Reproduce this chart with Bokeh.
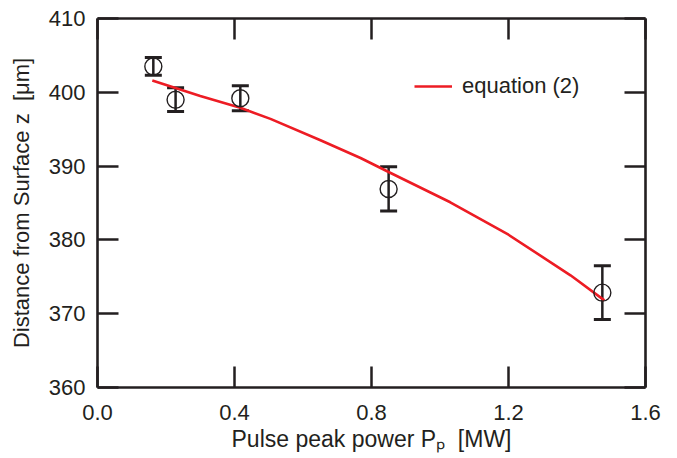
from bokeh.plotting import figure
from bokeh.models import (ColumnDataSource, Whisker, TeeHead, Range1d, FixedTicker,
                          NumeralTickFormatter, LinearAxis, Legend, LegendItem,
                          CustomJSTickFormatter)
from bokeh.embed import file_html
from bokeh.resources import INLINE

# data
power = [0.163, 0.228, 0.417, 0.850, 1.474]
depth = [403.5, 399.0, 399.2, 386.9, 372.85]
err = [1.2, 1.6, 1.7, 3.0, 3.65]

curve_x = [0.16, 0.30, 0.417, 0.505, 0.651, 0.768, 0.85, 1.03, 1.20, 1.381, 1.48]
curve_y = [401.6, 399.5, 397.9, 396.4, 393.5, 391.1, 389.2, 385.1, 380.7, 375.2, 371.8]

x_ticks = [0.0, 0.4, 0.8, 1.2, 1.6]
y_ticks = [360, 370, 380, 390, 400, 410]

FONT = "Liberation Sans"
INK = "#231f20"
RED = "#ed1c24"

W, H = 668, 458
p = figure(width=W, height=H, output_backend="svg", toolbar_location=None,
           x_range=Range1d(0, 1.6), y_range=Range1d(360, 410),
           min_border_left=97, min_border_top=18, min_border_right=23,
           min_border_bottom=H - 387)
p.grid.visible = False
p.outline_line_color = None
p.background_fill_color = "white"

src = ColumnDataSource(dict(x=power, y=depth,
                            lo=[d - e for d, e in zip(depth, err)],
                            hi=[d + e for d, e in zip(depth, err)]))

line_r = p.line(curve_x, curve_y, line_color=RED, line_width=2.6)

p.add_layout(Whisker(source=src, base="x", lower="lo", upper="hi",
                     line_color=INK, line_width=2.5,
                     upper_head=TeeHead(size=17, line_color=INK, line_width=3),
                     lower_head=TeeHead(size=17, line_color=INK, line_width=3)))
p.scatter("x", "y", source=src, marker="circle", size=17, fill_color=None,
          line_color=INK, line_width=1.4)

def style_axis(ax):
    ax.axis_line_color = INK
    ax.axis_line_width = 2.6
    ax.major_tick_line_color = INK
    ax.major_tick_line_width = 2.5
    ax.major_tick_in = 21
    ax.major_tick_out = 0
    ax.minor_tick_line_color = None
    ax.major_label_text_font = FONT
    ax.major_label_text_font_size = "22px"
    ax.major_label_text_color = INK
    ax.axis_label_text_font = FONT
    ax.axis_label_text_font_size = "22px"
    ax.axis_label_text_font_style = "normal"
    ax.axis_label_text_color = INK

xa = p.xaxis[0]
ya = p.yaxis[0]
style_axis(xa)
style_axis(ya)
xa.ticker = FixedTicker(ticks=x_ticks)
xa.formatter = NumeralTickFormatter(format="0.0")
xa.major_label_standoff = 17
xa.axis_label = "Pulse peak power P\u209a\u00a0\u00a0[MW]"
xa.axis_label_text_font_size = "23px"
xa.axis_label_standoff = 3
ya.ticker = FixedTicker(ticks=y_ticks)
ya.major_label_standoff = 12
ya.axis_label = "Distance from Surface z\u00a0\u00a0[\u03bcm]"
ya.axis_label_standoff = 12

blank = CustomJSTickFormatter(code="return ''")
top = LinearAxis(ticker=FixedTicker(ticks=x_ticks), formatter=blank)
right = LinearAxis(ticker=FixedTicker(ticks=y_ticks), formatter=blank)
for ax in (top, right):
    style_axis(ax)
    ax.major_label_standoff = 0
    ax.major_label_text_font_size = "1px"
p.add_layout(top, "above")
p.add_layout(right, "right")

legend = Legend(items=[LegendItem(label="equation (2)", renderers=[line_r])],
                location=(317, 288), padding=0, margin=0, spacing=0,
                glyph_width=38, glyph_height=20, label_height=20, label_standoff=10,
                border_line_color=None, background_fill_alpha=0,
                label_text_font=FONT, label_text_font_size="22px", label_text_color=INK)
p.add_layout(legend)

open("out.html", "w").write(file_html(p, INLINE))
